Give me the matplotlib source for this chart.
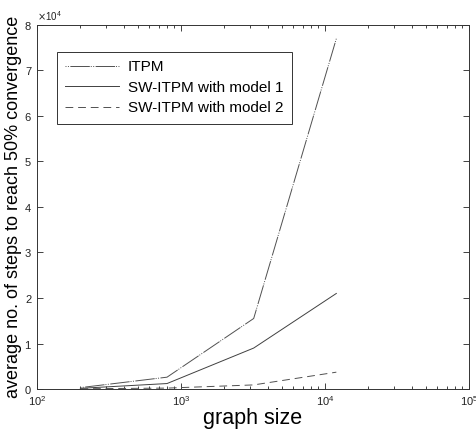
import matplotlib.pyplot as plt
from matplotlib.ticker import ScalarFormatter, FixedLocator

plt.rcParams['font.family'] = ['Liberation Sans', 'DejaVu Sans']

# data
graph_size = [200, 800, 3200, 12000]
itpm = [300, 2600, 15500, 77000]
sw_model1 = [150, 1200, 9000, 21000]
sw_model2 = [50, 200, 900, 3700]
labels = ["ITPM", "SW-ITPM with model 1", "SW-ITPM with model 2"]

fig = plt.figure(figsize=(4.77, 4.33), dpi=100)
ax = fig.add_axes([0.0776, 0.1016, 0.9054, 0.8407])

ax.plot(graph_size, itpm, color="#505050", lw=0.7,
        linestyle=(0, (1, 1.5, 1, 1.5, 20, 1)), label=labels[0])
ax.plot(graph_size, sw_model1, color="#404040", lw=0.7, linestyle="-",
        label=labels[1])
ax.plot(graph_size, sw_model2, color="#505050", lw=0.7,
        linestyle=(0, (8, 5)), label=labels[2])

ax.set_xscale("log")
ax.set_xlim(100, 100000)
ax.set_ylim(0, 80000)
ax.yaxis.set_major_locator(FixedLocator([i * 10000 for i in range(9)]))
fmt = ScalarFormatter(useMathText=True)
fmt.set_powerlimits((0, 0))
ax.yaxis.set_major_formatter(fmt)
ax.yaxis.get_offset_text().set_fontsize(7)

ax.tick_params(which="both", direction="in", top=True, right=True,
               labelsize=8, width=0.6, colors="#222222")
ax.tick_params(which="major", length=4)
ax.tick_params(which="minor", length=2)
for s in ax.spines.values():
    s.set_linewidth(0.7)
    s.set_color("#333333")

ax.set_xlabel("graph size", fontsize=15.5, labelpad=0)
ax.set_ylabel("average no. of steps to reach 50% convergence", fontsize=13,
              labelpad=2)

leg = ax.legend(loc="upper left", bbox_to_anchor=(0.046, 0.926),
                borderaxespad=0, fontsize=11, handlelength=3.5,
                handletextpad=0.6, labelspacing=0.42, borderpad=0.55,
                fancybox=False, framealpha=1, edgecolor="#333333")
leg.get_frame().set_linewidth(0.7)

fig.savefig("out.png", dpi=100)
